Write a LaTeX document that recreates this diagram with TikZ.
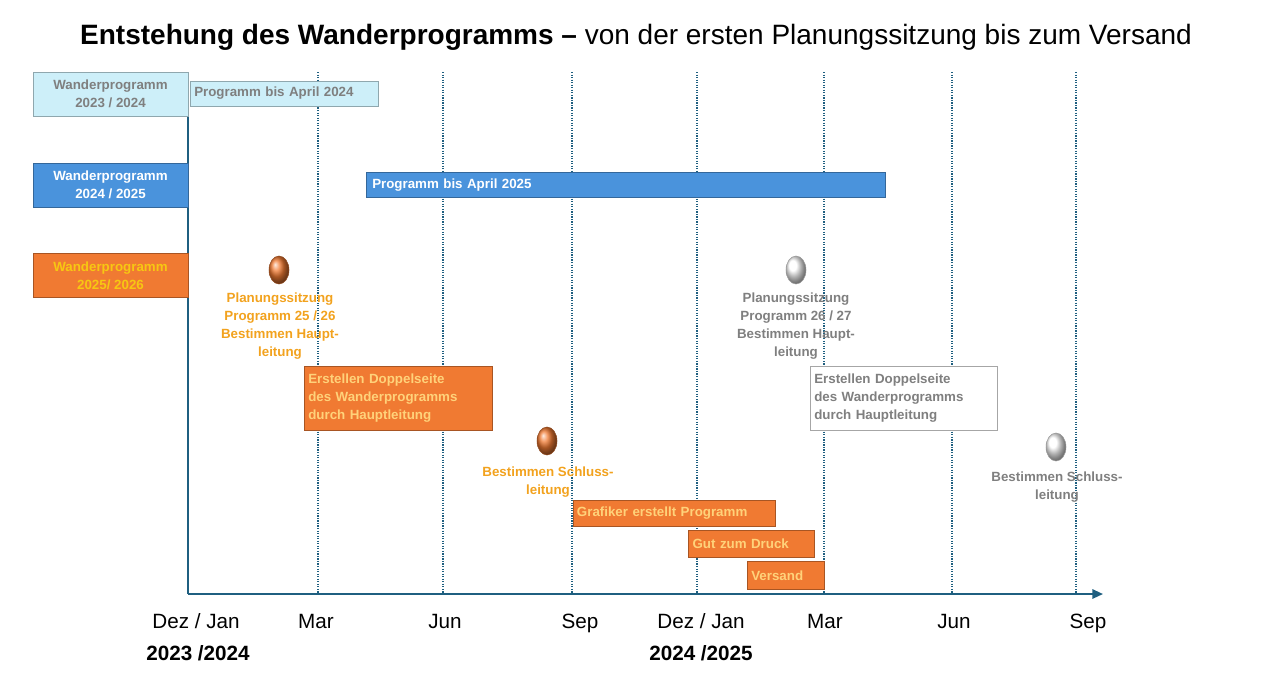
\documentclass[tikz,border=0pt]{standalone}
\usepackage{fontspec}
\setmainfont{Liberation Sans}
\usetikzlibrary{arrows.meta,shapes.geometric}
\definecolor{cyanbox}{HTML}{CDEFF9}
\definecolor{bluebox}{HTML}{4A93DC}
\definecolor{orangebox}{HTML}{F07A32}
\definecolor{orangetxt}{HTML}{F2A21E}
\definecolor{graytxt}{HTML}{7F7F7F}
\definecolor{axisblue}{HTML}{1F5F80}
\definecolor{lighttxt}{HTML}{FFD27A}
\tikzset{
  lane/.style={draw=#1!70!black, fill=#1, inner sep=0pt, align=center},
  bar/.style={draw=#1!70!black, fill=#1, inner sep=0pt},
  small/.style={font=\fontsize{10}{13.5}\selectfont\bfseries},
  stamp/.style={ellipse, draw=#1!60!black, ball color=#1, minimum width=15pt, minimum height=21pt, inner sep=0pt},
  month/.style={font=\fontsize{15.5}{18}\selectfont, anchor=base},
}
\begin{document}
\begin{tikzpicture}[x=0.75pt,y=-0.75pt]
\useasboundingbox (0,0) rectangle (1266,694);
\node (title) at (636,37) {\fontsize{21}{24}\selectfont\textbf{Entstehung des Wanderprogramms –} von der ersten Planungssitzung bis zum Versand};
% grid
\foreach \x in {318,443,572,697,824,952,1076}
  \draw[axisblue, densely dotted, line width=0.9pt] (\x,72) -- (\x,594);
\coordinate (o) at (188,594);
\coordinate (top) at (188,72);
\coordinate (end) at (1103,594);
\draw[axisblue, line width=1.5pt] (top) -- (o);
\draw[axisblue, line width=1.5pt, -{Triangle[length=8pt,width=7pt]}] (o) -- (end);
% months
\foreach \x/\m in {196/{Dez / Jan},316/Mar,445/Jun,580/Sep,701/{Dez / Jan},825/Mar,954/Jun,1088/Sep}
  \node[month] at (\x,628) {\m};
\node[month, font=\fontsize{15.5}{18}\selectfont\bfseries] (y1) at (198,660) {2023 /2024};
\node[month, font=\fontsize{15.5}{18}\selectfont\bfseries] (y2) at (701,660) {2024 /2025};
% lanes
\node[lane=cyanbox, small, text=graytxt, minimum width=116pt, minimum height=33pt] (wp23) at (110.5,94) {Wanderprogramm\\2023 / 2024};
\node[lane=bluebox, small, text=white, minimum width=116pt, minimum height=33pt] (wp24) at (110.5,185) {Wanderprogramm\\2024 / 2025};
\node[lane=orangebox, small, text=orangetxt!60!yellow, minimum width=116pt, minimum height=33pt] (wp25) at (110.5,275.5) {Wanderprogramm\\2025/ 2026};
% bars
\node[bar=cyanbox, small, text=graytxt, anchor=west, minimum width=141pt, minimum height=19pt, text width=135pt] (p24) at (190,93.5) {Programm bis April 2024};
\node[bar=bluebox, small, text=white, anchor=west, minimum width=389pt, minimum height=19pt, text width=380pt] (p25) at (366,185) {Programm bis April 2025};
% milestones
\node[stamp=orangebox] (m1) at (279,270) {};
\node[stamp=white] (m2) at (796,270) {};
\node[stamp=orangebox] (m3) at (547,441) {};
\node[stamp=white] (m4) at (1056,447) {};
\node[small, text=orangetxt, align=center, anchor=north] (t1) at (280,288) {Planungssitzung\\Programm 25 / 26\\Bestimmen Haupt-\\leitung};
\node[small, text=graytxt, align=center, anchor=north] (t2) at (796,288) {Planungssitzung\\Programm 26 / 27\\Bestimmen Haupt-\\leitung};
\node[small, text=orangetxt, align=center, anchor=north] (t3) at (548,462) {Bestimmen Schluss-\\leitung};
\node[small, text=graytxt, align=center, anchor=north] (t4) at (1057,467) {Bestimmen Schluss-\\leitung};
% tasks
\node[bar=orangebox, small, text=lighttxt, align=left, anchor=north west, minimum width=141pt, minimum height=48pt, text width=135pt] (d1) at (304,366) {Erstellen Doppelseite\\des Wanderprogramms\\durch Hauptleitung};
\node[bar=white, draw=gray!70, small, text=graytxt, align=left, anchor=north west, minimum width=140pt, minimum height=48pt, text width=134pt] (d2) at (810,366) {Erstellen Doppelseite\\des Wanderprogramms\\durch Hauptleitung};
\node[bar=orangebox, small, text=lighttxt, anchor=north west, minimum width=151.5pt, minimum height=19.5pt, text width=146pt] (g) at (573,500) {Grafiker erstellt Programm};
\node[bar=orangebox, small, text=lighttxt, anchor=north west, minimum width=94.5pt, minimum height=20pt, text width=88pt] (gd) at (688,530) {Gut zum Druck};
\node[bar=orangebox, small, text=lighttxt, anchor=north west, minimum width=58pt, minimum height=21pt, text width=52pt] (v) at (747,561) {Versand};
\end{tikzpicture}
\end{document}
